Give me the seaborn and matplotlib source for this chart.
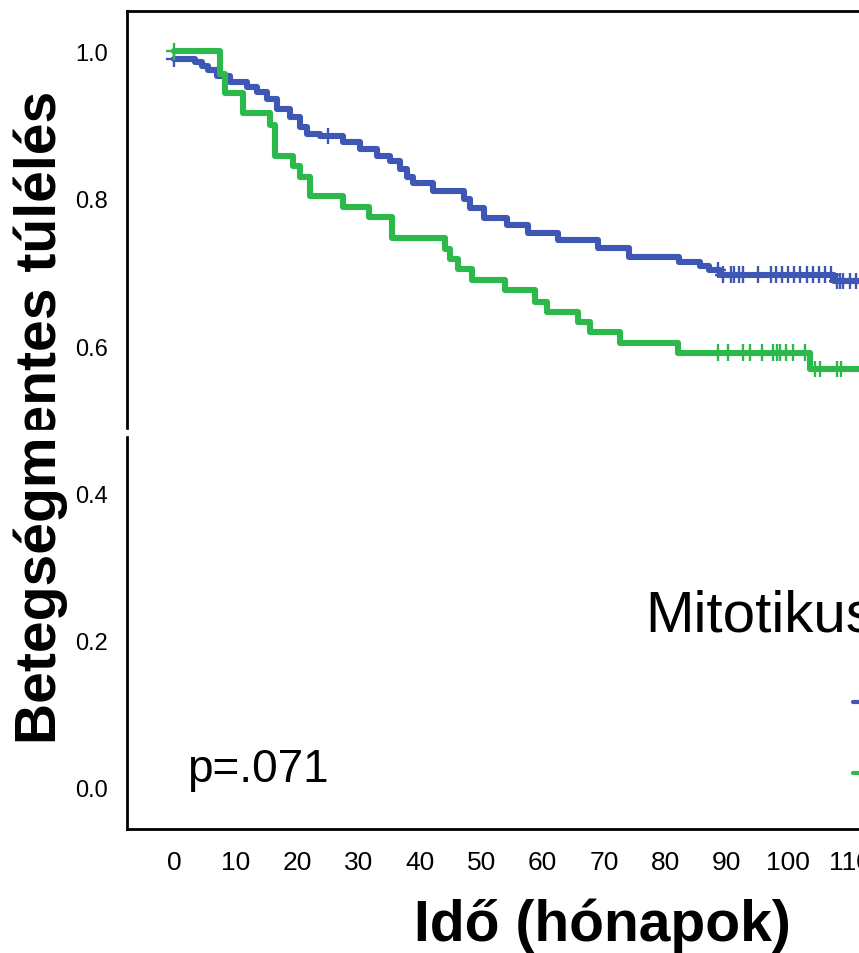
import matplotlib
matplotlib.use("Agg")
import matplotlib.pyplot as plt
from matplotlib.lines import Line2D
from matplotlib.patches import Rectangle
import seaborn as sns
import numpy as np
import pandas as pd

# Kaplan-Meier steps (time in months, survival)
blue_times = [0, 3.4, 4.5, 5.5, 7.0, 9.1, 11.8, 13.5, 15.1, 16.7, 18.8, 20.5, 21.6,
              23.7, 27.5, 30.2, 33.0, 35.1, 36.8, 37.9, 38.9, 42.1, 47.2, 48.2, 50.4,
              54.2, 57.6, 62.5, 69.0, 74.0, 82.2, 85.6, 87.1, 88.9, 107.4, 125]
blue_surv = [0.990, 0.986, 0.980, 0.975, 0.967, 0.959, 0.952, 0.945, 0.936, 0.922, 0.911,
             0.897, 0.888, 0.885, 0.877, 0.868, 0.858, 0.851, 0.841, 0.830, 0.821, 0.811,
             0.800, 0.787, 0.774, 0.764, 0.754, 0.744, 0.733, 0.721, 0.714, 0.709, 0.703,
             0.697, 0.688, 0.688]
blue_censor = [0, 25.0, 88.6, 89.4, 90.7, 91.2, 92.0, 92.6, 95.1, 97.2, 98.0, 99.0, 100.0,
               101.0, 102.0, 103.0, 104.0, 105.0, 106.0, 107.0, 108.0, 108.5, 109.0,
               110.0, 111.0, 112.0]

green_times = [0, 7.4, 8.3, 11.2, 15.6, 16.4, 19.3, 20.5, 22.1, 27.5, 31.7, 35.5, 44.1,
               44.9, 46.2, 48.5, 53.9, 58.7, 60.7, 65.8, 67.7, 72.6, 82.0, 103.5, 125]
green_surv = [1.0, 0.970, 0.943, 0.917, 0.900, 0.858, 0.845, 0.830, 0.804, 0.789, 0.775,
              0.747, 0.732, 0.718, 0.705, 0.690, 0.676, 0.660, 0.646, 0.633, 0.619, 0.604,
              0.591, 0.569, 0.569]
green_censor = [0, 88.6, 90.2, 92.6, 93.8, 95.7, 97.5, 98.2, 98.7, 99.6, 100.8, 102.7,
                104.4, 105.2, 107.9, 108.6]

groups = ["alacsony", "magas"]
colors = {"alacsony": "#3e56b4", "magas": "#2cb84a"}

y_ticks = [0.0, 0.2, 0.4, 0.6, 0.8, 1.0]
x_ticks = list(range(0, 151, 10))


def censor_points(times, surv, cens):
    times = np.asarray(times)
    idx = np.searchsorted(times, cens, side="right") - 1
    return np.asarray(surv)[idx]


curves = pd.concat([
    pd.DataFrame({"time": blue_times, "surv": blue_surv, "group": groups[0]}),
    pd.DataFrame({"time": green_times, "surv": green_surv, "group": groups[1]}),
])
marks = pd.concat([
    pd.DataFrame({"time": blue_censor,
                  "surv": censor_points(blue_times, blue_surv, blue_censor),
                  "group": groups[0]}),
    pd.DataFrame({"time": green_censor,
                  "surv": censor_points(green_times, green_surv, green_censor),
                  "group": groups[1]}),
])

sns.set_style("white")
plt.rcParams["font.family"] = ["Liberation Sans", "DejaVu Sans"]
for key in ["text.color", "axes.labelcolor", "xtick.color", "ytick.color"]:
    plt.rcParams[key] = "black"

fig = plt.figure(figsize=(8.59, 9.54), dpi=100)
ax = fig.add_axes([0.1478, 0.13, 1.127, 0.8578])

sns.lineplot(data=curves, x="time", y="surv", hue="group", palette=colors,
             estimator=None, drawstyle="steps-post", linewidth=4.4, legend=False, ax=ax)
sns.scatterplot(data=marks, x="time", y="surv", hue="group", palette=colors,
                marker="+", s=140, linewidth=1.7, legend=False, ax=ax, zorder=3)

ax.set_xlim(-7.7, 150)
ax.set_ylim(-0.0557, 1.0554)
ax.set_xticks(x_ticks)
ax.set_yticks(y_ticks)
ax.set_yticklabels([f"{v:.1f}" for v in y_ticks], fontsize=17)
ax.set_xticklabels([str(v) for v in x_ticks], fontsize=19)
ax.tick_params(axis="y", length=12, width=2.2, pad=2, color="black", labelcolor="black")
ax.tick_params(axis="x", length=11, width=2.2, pad=4, color="black", labelcolor="black")
ax.set_xlabel("")
ax.set_ylabel("")
for side in ["top", "left", "bottom"]:
    ax.spines[side].set_color("black")
    ax.spines[side].set_linewidth(2)
ax.spines["right"].set_visible(False)

fig.text(0.2175, 0.193, "p=.071", fontsize=33, ha="left", va="center")
fig.text(0.751, 1 - 631 / 954, "Mitotikus", fontsize=42, ha="left", va="baseline")
fig.text(0.047, 0.563, "Betegségmentes túlélés", rotation=90, fontsize=41,
         fontweight="bold", ha="center", va="center")
fig.text(0.701, 0.03, "Idő (hónapok)", fontsize=41, fontweight="bold",
         ha="center", va="center")

# legend line stubs (cut off at the right edge)
for yy, g in [(0.263, groups[0]), (0.189, groups[1])]:
    fig.add_artist(Line2D([0.993, 1.05], [yy, yy], color=colors[g], lw=3,
                          transform=fig.transFigure))

# white seam where the picture was spliced
fig.add_artist(Rectangle((0, 1 - 436 / 954), 1, 4.5 / 954, transform=fig.transFigure,
                         color="white", zorder=10))

fig.savefig("out.png", dpi=100)
